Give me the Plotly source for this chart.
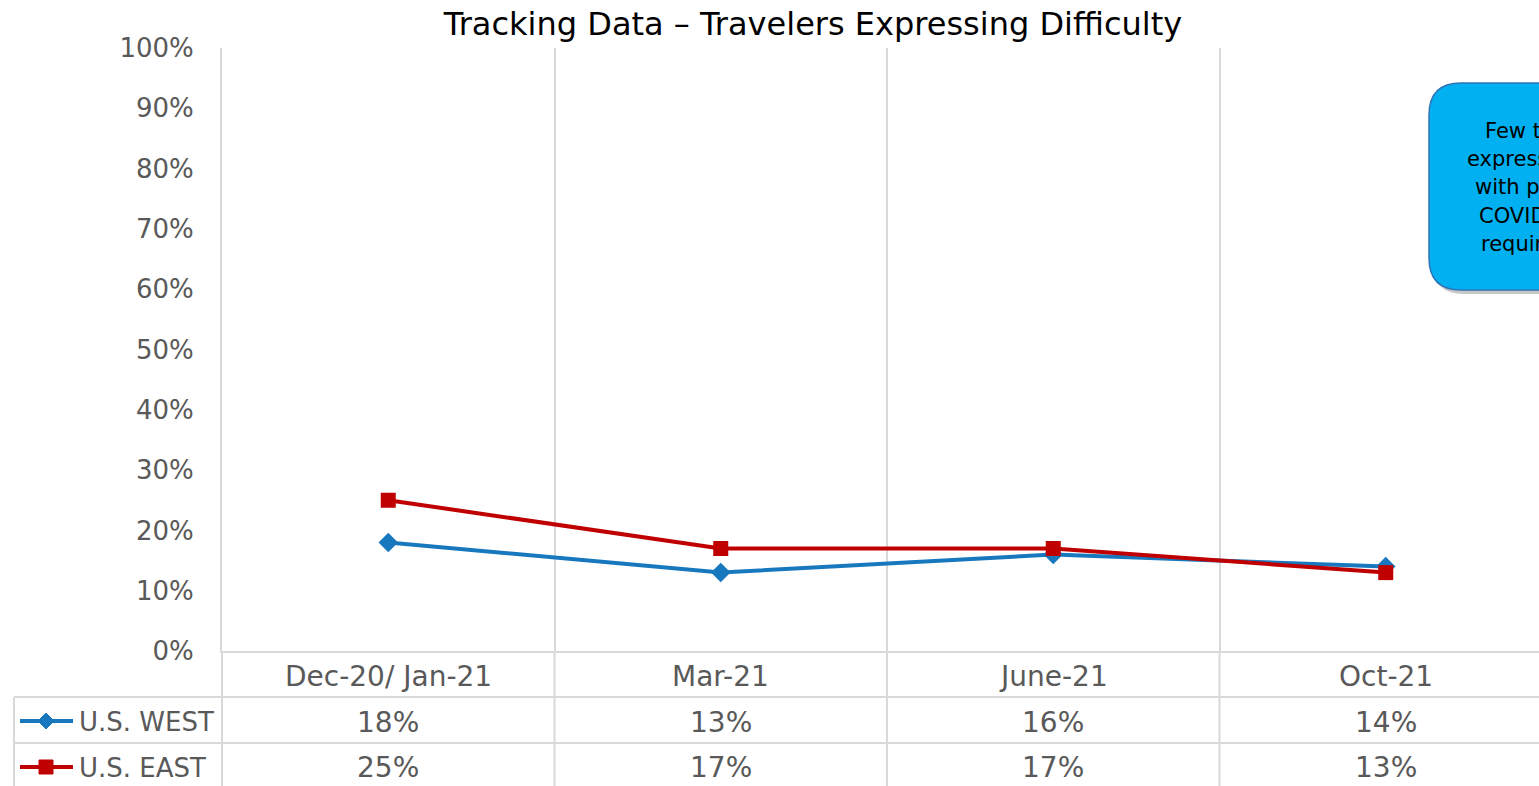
import plotly.graph_objects as go

categories = ["Dec-20/ Jan-21", "Mar-21", "June-21", "Oct-21"]
west = [18, 13, 16, 14]
east = [25, 17, 17, 13]
series_names = ["U.S. WEST", "U.S. EAST"]
y_ticks = list(range(0, 101, 10))
y_tick_labels = [f"{v}%" for v in y_ticks]
title_text = "Tracking Data \u2013 Travelers Expressing Difficulty"
callout_lines = ["Few travelers", "expressing difficulty", "with pre-travel", "COVID-19", "requirements"]

W, H = 1539, 786
L, T, B = 222, 48, 135
PW = W - L
PH = H - T - B
COL = 332.5
xmax = -0.5 + PW / COL

BLUE = "#1878BE"
RED = "#C00000"
GRID = "#D9D9D9"
TXT = "#595959"
FONT = "DejaVu Sans"

def xp(px):
    return (px - L) / PW

def yp(py):
    return (H - B - py) / PH

x = list(range(len(categories)))

fig = go.Figure()
fig.add_trace(go.Scatter(x=x, y=west, mode="lines+markers", name=series_names[0],
                         line=dict(color=BLUE, width=4),
                         marker=dict(symbol="diamond", size=15, color=BLUE)))
fig.add_trace(go.Scatter(x=x, y=east, mode="lines+markers", name=series_names[1],
                         line=dict(color=RED, width=4),
                         marker=dict(symbol="square", size=15, color=RED)))

shapes = []
annotations = []

# table grid
row_y = [H - B, H - B + 46, H - B + 92]
shapes.append(dict(type="line", xref="paper", yref="paper", x0=xp(14), x1=1.02,
                   y0=yp(row_y[1]), y1=yp(row_y[1]), line=dict(color=GRID, width=2)))
shapes.append(dict(type="line", xref="paper", yref="paper", x0=xp(14), x1=1.02,
                   y0=yp(row_y[2]), y1=yp(row_y[2]), line=dict(color=GRID, width=2)))
shapes.append(dict(type="line", xref="paper", yref="paper", x0=xp(14), x1=xp(14),
                   y0=yp(row_y[1]), y1=yp(H + 5), line=dict(color=GRID, width=2)))
for b in [-0.5, 0.5, 1.5, 2.5, 3.5]:
    px = L + (b + 0.5) * COL
    shapes.append(dict(type="line", xref="paper", yref="paper", x0=xp(px), x1=xp(px),
                       y0=0, y1=yp(H + 5), line=dict(color=GRID, width=2)))

# table text
for i, c in enumerate(categories):
    for r, txt in enumerate([c, f"{west[i]}%", f"{east[i]}%"]):
        annotations.append(dict(x=i, y=yp(row_y[r] + 25), xref="x", yref="paper", text=txt,
                                xanchor="center", yanchor="middle", showarrow=False,
                                font=dict(family=FONT, size=28, color=TXT)))

# legend keys in table
for k, (nm, col) in enumerate(zip(series_names, [BLUE, RED])):
    cy = row_y[k + 1] + 24
    shapes.append(dict(type="line", xref="paper", yref="paper", x0=xp(20), x1=xp(73),
                       y0=yp(cy), y1=yp(cy), line=dict(color=col, width=4)))
    if k == 0:
        path = (f"M {xp(46)} {yp(cy-8)} L {xp(54)} {yp(cy)} L {xp(46)} {yp(cy+8)} "
                f"L {xp(38)} {yp(cy)} Z")
    else:
        path = (f"M {xp(39)} {yp(cy-7)} L {xp(53)} {yp(cy-7)} L {xp(53)} {yp(cy+7)} "
                f"L {xp(39)} {yp(cy+7)} Z")
    shapes.append(dict(type="path", xref="paper", yref="paper", path=path,
                       fillcolor=col, line=dict(color=col, width=1)))
    annotations.append(dict(x=xp(77), y=yp(cy + 1), xref="paper", yref="paper", text=nm,
                            xanchor="left", yanchor="middle", showarrow=False,
                            font=dict(family=FONT, size=26, color=TXT)))

# callout box
def rounded(x0, y0, x1, y1, r, dx=0, dy=0):
    x0 += dx; x1 += dx; y0 += dy; y1 += dy
    pts = [
        f"M {xp(x0 + r)} {yp(y0)}",
        f"L {xp(x1 - r)} {yp(y0)}",
        f"Q {xp(x1)} {yp(y0)} {xp(x1)} {yp(y0 + r)}",
        f"L {xp(x1)} {yp(y1 - r)}",
        f"Q {xp(x1)} {yp(y1)} {xp(x1 - r)} {yp(y1)}",
        f"L {xp(x0 + r)} {yp(y1)}",
        f"Q {xp(x0)} {yp(y1)} {xp(x0)} {yp(y1 - r)}",
        f"L {xp(x0)} {yp(y0 + r)}",
        f"Q {xp(x0)} {yp(y0)} {xp(x0 + r)} {yp(y0)} Z",
    ]
    return " ".join(pts)

shapes.append(dict(type="path", xref="paper", yref="paper",
                   path=rounded(1429, 83, 1680, 290, 32, 3, 4),
                   fillcolor="rgba(0,0,0,0.22)", line=dict(width=0)))
shapes.append(dict(type="path", xref="paper", yref="paper",
                   path=rounded(1429, 83, 1680, 290, 32),
                   fillcolor="#00B0F0", line=dict(color="#2E75B6", width=1.5)))
starts = [1483, 1465, 1473, 1477, 1479]
ys = [131, 159, 187, 216, 244]
for s, yy, t in zip(starts, ys, callout_lines):
    annotations.append(dict(x=xp(s), y=yp(yy), xref="paper", yref="paper", text=t,
                            xanchor="left", yanchor="middle", showarrow=False,
                            font=dict(family=FONT, size=21, color="#000000")))

fig.update_layout(
    width=W, height=H,
    margin=dict(l=L, r=0, t=T, b=B, pad=0),
    paper_bgcolor="white", plot_bgcolor="white",
    showlegend=False,
    title=dict(text=title_text, x=813 / W, xanchor="center", xref="container",
               y=1 - 24 / H, yanchor="middle", yref="container",
               font=dict(family=FONT, size=32, color="#000000")),
    xaxis=dict(range=[-0.5, xmax], tickvals=[0.5, 1.5, 2.5, 3.5], showticklabels=False,
               showgrid=True, gridcolor=GRID, gridwidth=2, zeroline=False,
               showline=True, linecolor=GRID, linewidth=2, ticks=""),
    yaxis=dict(range=[0, 100], tickmode="array", tickvals=y_ticks, ticktext=y_tick_labels,
               showgrid=False, zeroline=False, showline=True, linecolor=GRID, linewidth=2,
               ticks="", ticklabelstandoff=21,
               tickfont=dict(family=FONT, size=26, color=TXT)),
    shapes=shapes, annotations=annotations,
)

fig.write_html("out.html", config={"displayModeBar": False},
               post_script="document.body.style.margin='0';document.body.style.overflow='hidden';")
